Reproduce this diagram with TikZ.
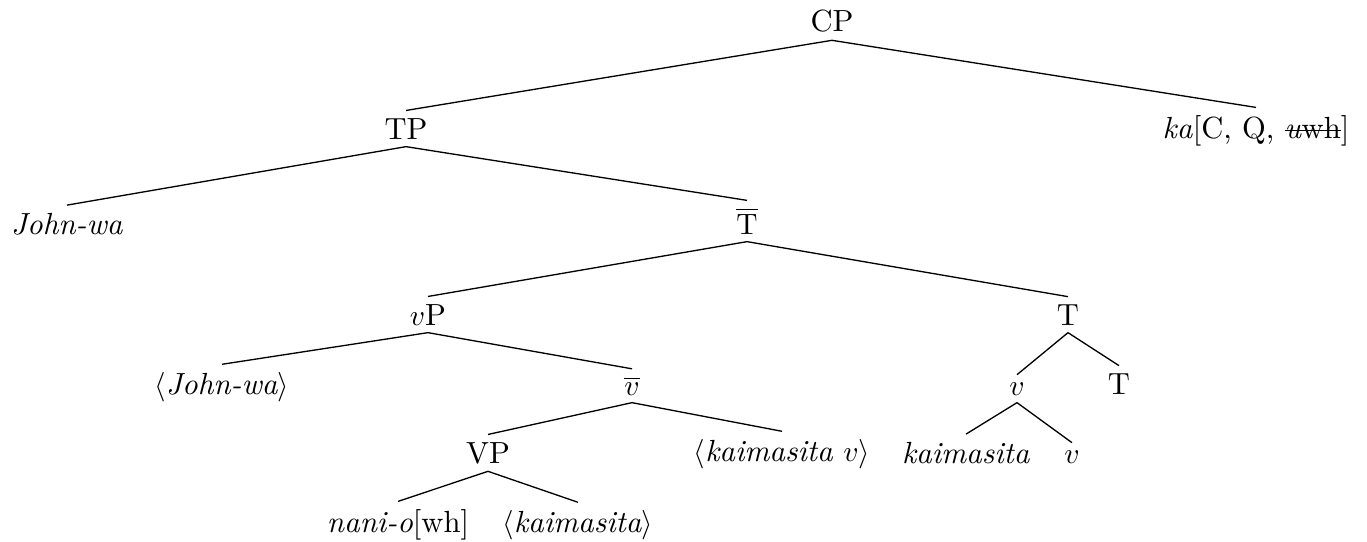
\documentclass[tikz,border=0pt]{standalone}
\newcommand\mystrike[1]{\setbox0\hbox{#1}\rlap{\rule[0.55ex]{\wd0}{0.4pt}}\box0}
\begin{document}
\begin{tikzpicture}[x=0.34pt,y=-0.34pt,
  lab/.style={anchor=base,inner sep=2.4pt,font=\fontsize{10.4pt}{12.5pt}\selectfont},
  edge/.style={draw,line width=0.45pt}]
\useasboundingbox (0,0) rectangle (1367,542);
% row 0
\node[lab] (CP) at (832,32) {CP};
% row 1
\node[lab] (TP) at (406,139) {TP};
\node[lab] (ka) at (1256,138) {\textit{ka}[C, Q, \mystrike{\textit{u}wh}]};
% row 2
\node[lab] (jw) at (67,234) {\textit{John-wa}};
\node[lab] (Tbar) at (747,234) {$\overline{\mathrm{T}}$};
% row 3
\node[lab] (vP) at (428,325) {$v$P};
\node[lab] (Tup) at (1068,325) {T};
% row 4
\node[lab] (jw2) at (222,394) {$\langle$\textit{John-wa}$\rangle$};
\node[lab] (vbar) at (632,395) {$\overline{v}$};
\node[lab] (vv) at (1017,395) {$v$};
\node[lab] (Tlow) at (1119,394) {T};
% row 5
\node[lab] (VP) at (488,463) {VP};
\node[lab] (kv) at (782,461) {$\langle$\textit{kaimasita} $v\rangle$};
\node[lab] (kai) at (966,463) {\textit{kaimasita}};
\node[lab] (vlow) at (1072,463) {$v$};
% row 6
\node[lab] (nani) at (398,532) {\textit{nani-o}[wh]};
\node[lab] (kaim) at (578,532) {$\langle$\textit{kaimasita}$\rangle$};
% edges
\draw[edge] (CP.south) -- (TP.north);
\draw[edge] (CP.south) -- (ka.north);
\draw[edge] (TP.south) -- (jw.north);
\draw[edge] (TP.south) -- (Tbar.north);
\draw[edge] (Tbar.south) -- (vP.north);
\draw[edge] (Tbar.south) -- (Tup.north);
\draw[edge] (vP.south) -- (jw2.north);
\draw[edge] (vP.south) -- (vbar.north);
\draw[edge] (Tup.south) -- (vv.north);
\draw[edge] (Tup.south) -- (Tlow.north);
\draw[edge] (vbar.south) -- (VP.north);
\draw[edge] (vbar.south) -- (kv.north);
\draw[edge] (vv.south) -- (kai.north);
\draw[edge] (vv.south) -- (vlow.north);
\draw[edge] (VP.south) -- (nani.north);
\draw[edge] (VP.south) -- (kaim.north);
\end{tikzpicture}
\end{document}
